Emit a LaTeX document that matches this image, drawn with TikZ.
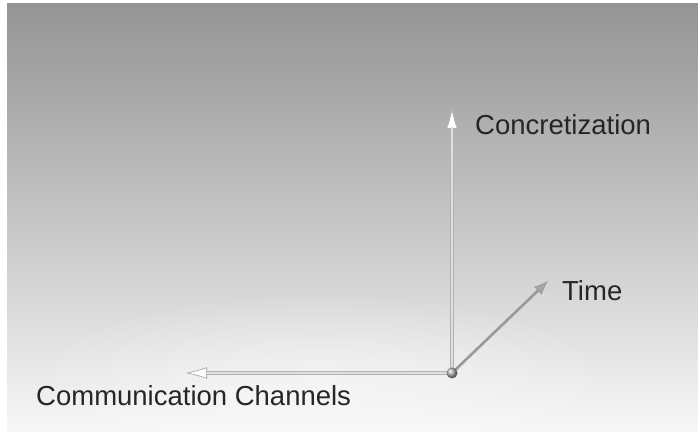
\documentclass[tikz,border=0pt]{standalone}
\usepackage{fontspec}
\setmainfont{Liberation Sans}
\usetikzlibrary{arrows.meta,fadings}

\tikzfading[name=glow, inner color=transparent!20, outer color=transparent!100]

\begin{document}
\begin{tikzpicture}[x=1pt,y=1pt,
    axis/.style={line width=3.2pt,draw=gray!60,-{Latex[length=22pt,width=12pt,fill=white,line width=0.8pt]}},
    core/.style={line width=1.4pt,draw=gray!25,shorten >=20pt},
    label/.style={anchor=west,inner sep=0pt,font=\fontsize{27.5}{32}\selectfont,text=black!85}]

  % background
  \useasboundingbox (0,0) rectangle (698,433);
  \fill[white] (0,0) rectangle (698,433);
  \shade[top color=black!42,bottom color=black!3] (7,1) rectangle (698,429);
  \fill[white,opacity=0.6,path fading=glow] (320,50) ellipse (300 and 90);

  \coordinate (origin) at (452,60);
  \coordinate (up) at (452,326);
  \coordinate (time) at (548,152);
  \coordinate (left) at (185,60);

  \draw[axis] (origin) -- (up);
  \draw[core] (origin) -- (up);
  \draw[axis] (origin) -- (left);
  \draw[core] (origin) -- (left);
  \draw[axis,draw=gray!80,line width=2.6pt,-{Latex[length=14pt,width=11pt,fill=gray!70,line width=0.8pt]}] (origin) -- (time);
  \shade[ball color=gray!60] (origin) circle (5.5);

  \node[label] (concr) at (475,308) {Concretization};
  \node[label] (tlabel) at (562,142) {Time};
  \node[label] (comm) at (36,37) {Communication Channels};
\end{tikzpicture}
\end{document}
